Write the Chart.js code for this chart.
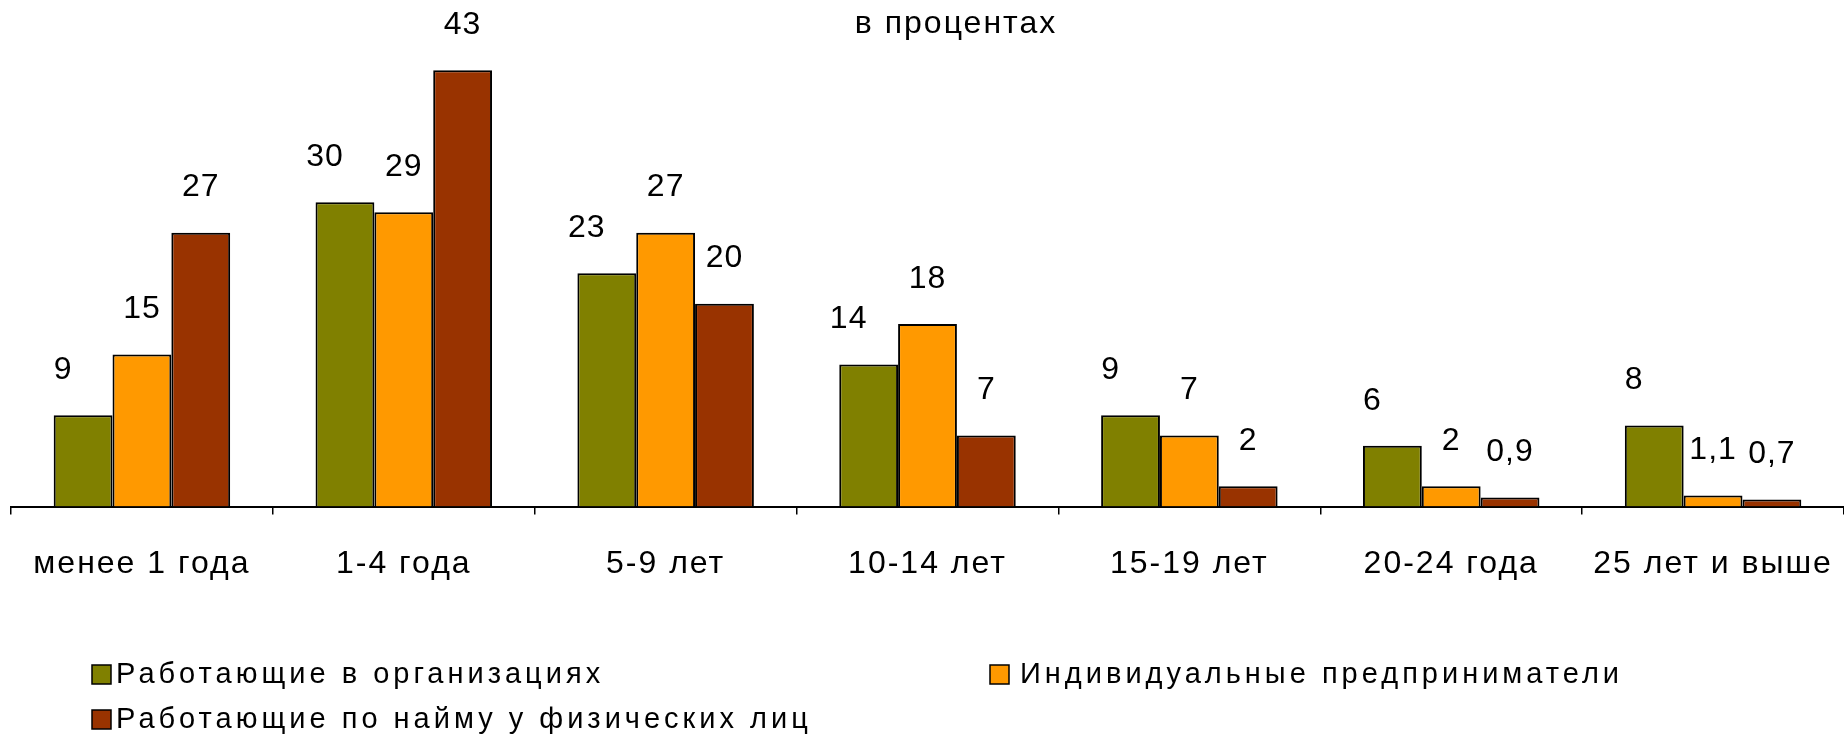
<!DOCTYPE html>
<html>
<head>
<meta charset="utf-8">
<script src="https://cdn.jsdelivr.net/npm/chart.js@4"></script>
<style>
  body { margin: 0; background: #fff; }
  #wrap { width: 1844px; height: 741px; }
</style>
</head>
<body>
<div id="wrap"><canvas id="barchart"></canvas></div>
<script>
const categories = ['менее 1 года', '1-4 года', '5-9 лет', '10-14 лет', '15-19 лет', '20-24 года', '25 лет и выше'];
const seriesNames = ['Работающие в организациях', 'Индивидуальные предприниматели', 'Работающие по найму у физических лиц'];
const inOrganizations = [9, 30, 23, 14, 9, 6, 8];
const entrepreneurs = [15, 29, 27, 18, 7, 2, 1.1];
const hiredByIndividuals = [27, 43, 20, 7, 2, 0.9, 0.7];
const titleText = 'в процентах';

const colors = ['#808000', '#FF9900', '#993300'];
const labelShift = [-20, 0, 0];
const FONT = '"Liberation Sans", Arial, sans-serif';

// wider text spacing like the original
const spacing = {
  id: 'spacing',
  beforeLayout(chart) { chart.ctx.letterSpacing = '2px'; },
  beforeDraw(chart) { chart.ctx.letterSpacing = '2px'; }
};

// value labels above bars, comma decimals
const valueLabels = {
  id: 'valueLabels',
  afterDatasetsDraw(chart) {
    const c = chart.ctx;
    c.save();
    c.font = '32px ' + FONT;
    c.letterSpacing = '1px';
    c.fillStyle = '#000';
    c.textAlign = 'center';
    c.textBaseline = 'middle';
    chart.data.datasets.forEach((ds, i) => {
      chart.getDatasetMeta(i).data.forEach((bar, j) => {
        const txt = String(ds.data[j]).replace('.', ',');
        c.fillText(txt, bar.x + labelShift[i], bar.y - 45);
      });
    });
    c.restore();
  }
};

// title + two-column legend
const decorations = {
  id: 'decorations',
  afterDraw(chart) {
    const c = chart.ctx;
    c.save();
    c.fillStyle = '#000';
    c.textBaseline = 'middle';
    c.textAlign = 'center';
    c.font = '32px ' + FONT;
    c.letterSpacing = '2px';
    c.fillText(titleText, 956, 24);

    const spots = [[92, 675], [990, 675], [92, 720]];
    c.textAlign = 'left';
    c.font = '29px ' + FONT;
    c.letterSpacing = '4px';
    chart.data.datasets.forEach((ds, i) => {
      const [x, y] = spots[i];
      c.fillStyle = ds.backgroundColor;
      c.fillRect(x, y - 10, 19, 19);
      c.strokeStyle = '#000';
      c.lineWidth = 1.5;
      c.strokeRect(x, y - 10, 19, 19);
      c.fillStyle = '#000';
      c.fillText(ds.label, x + (i === 1 ? 30 : 24), y);
    });
    c.restore();
  }
};

const ctx = document.getElementById('barchart');

new Chart(ctx, {
  type: 'bar',
  data: {
    labels: categories,
    datasets: [
      { label: seriesNames[0], data: inOrganizations, backgroundColor: colors[0] },
      { label: seriesNames[1], data: entrepreneurs, backgroundColor: colors[1] },
      { label: seriesNames[2], data: hiredByIndividuals, backgroundColor: colors[2] }
    ].map(d => Object.assign(d, {
      borderColor: '#000',
      borderWidth: 2,
      categoryPercentage: 0.674,
      barPercentage: 1
    }))
  },
  options: {
    responsive: true,
    maintainAspectRatio: false,
    animation: false,
    layout: { padding: { top: 50, left: 11, right: 0, bottom: 128 } },
    scales: {
      y: { display: false, min: 0, max: 45 },
      x: {
        afterFit(scale) {
          // axis runs right to the edge, as in the original
          scale.paddingLeft = 0;
          scale.paddingRight = 0;
        },
        grid: {
          offset: true,
          drawOnChartArea: false,
          drawTicks: true,
          tickLength: 8,
          color: '#000',
          lineWidth: 1.5
        },
        border: { display: true, color: '#000', width: 2 },
        ticks: {
          color: '#000',
          padding: 30,
          autoSkip: false,
          maxRotation: 0,
          font: { family: FONT, size: 32 }
        }
      }
    },
    plugins: {
      legend: { display: false },
      tooltip: { enabled: false }
    }
  },
  plugins: [spacing, valueLabels, decorations]
});
</script>
</body>
</html>
